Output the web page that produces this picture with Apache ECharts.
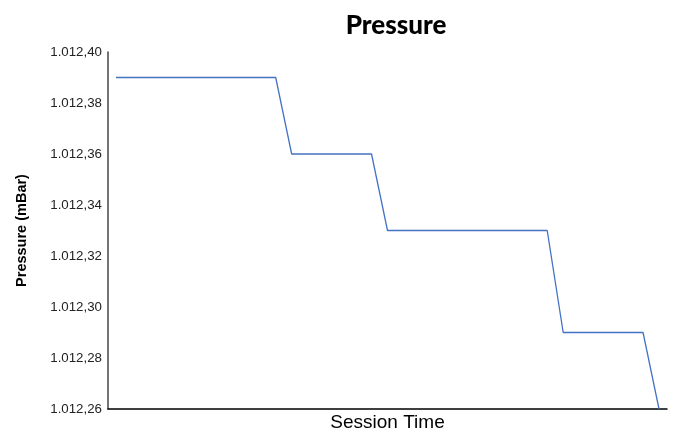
<!DOCTYPE html>
<html style="height: 100%">
<head>
	<meta charset="utf-8">
</head>
<body style="height: 100%; margin: 0; background: #fff">
<div id="container" style="height: 100%"></div>
<script type="text/javascript" src="https://cdn.jsdelivr.net/npm/echarts@6/dist/echarts.min.js"></script>
<script type="text/javascript">
    // session samples (labels hidden in the original)
    var sessionTimes = [];
    for (var i = 1; i <= 35; i++) sessionTimes.push(String(i));

    var pressure = [
        1012.39, 1012.39, 1012.39, 1012.39, 1012.39, 1012.39, 1012.39, 1012.39, 1012.39, 1012.39, 1012.39,
        1012.36, 1012.36, 1012.36, 1012.36, 1012.36, 1012.36,
        1012.33, 1012.33, 1012.33, 1012.33, 1012.33, 1012.33, 1012.33, 1012.33, 1012.33, 1012.33, 1012.33,
        1012.29, 1012.29, 1012.29, 1012.29, 1012.29, 1012.29,
        1012.26
    ];

    var yMin = 1012.26, yMax = 1012.40, yStep = 0.02;

    function fmt(v) {
        // 1012.40 -> 1.012,40
        var s = v.toFixed(2).split('.');
        var intPart = s[0].replace(/\B(?=(\d{3})+(?!\d))/g, '.');
        return intPart + ',' + s[1];
    }

    var dom = document.getElementById("container");
    var myChart = echarts.init(dom);
    var option = {
        backgroundColor: '#fff',
        animation: false,
        title: {
            text: 'Pressure',
            left: 391,
            textAlign: 'center',
            top: 8,
            textStyle: {
                fontFamily: 'Lato',
                fontWeight: 900,
                fontSize: 26,
                color: '#000'
            }
        },
        grid: {
            left: 108,
            right: 6,
            top: 52,
            bottom: 24,
            outerBoundsMode: 'none'
        },
        xAxis: {
            type: 'category',
            data: sessionTimes,
            boundaryGap: true,
            name: 'Session Time',
            nameLocation: 'middle',
            nameGap: 4,
            nameTextStyle: {
                fontFamily: 'Liberation Sans',
                fontSize: 19,
                color: '#000'
            },
            axisLine: {lineStyle: {color: '#000', width: 1.5}},
            axisTick: {show: false},
            axisLabel: {show: false},
            splitLine: {show: false}
        },
        yAxis: {
            type: 'value',
            min: yMin,
            max: yMax,
            interval: yStep,
            name: 'Pressure (mBar)',
            nameLocation: 'middle',
            nameGap: 79,
            nameTextStyle: {
                fontFamily: 'Liberation Sans',
                fontWeight: 'bold',
                fontSize: 14.5,
                color: '#000'
            },
            axisLine: {show: true, lineStyle: {color: '#444', width: 1.5}},
            axisTick: {show: false},
            splitLine: {show: false},
            axisLabel: {
                margin: 6,
                fontFamily: 'Liberation Sans',
                fontSize: 13.3,
                color: '#222',
                formatter: fmt
            }
        },
        series: [{
            type: 'line',
            data: pressure,
            showSymbol: false,
            lineStyle: {color: '#4472c4', width: 1.3}
        }]
    };
    myChart.setOption(option);
</script>
</body>
</html>
